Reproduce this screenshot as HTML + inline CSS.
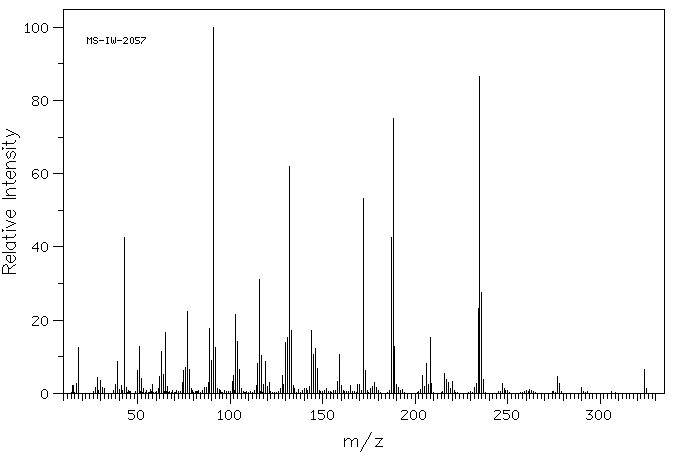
<!DOCTYPE html>
<html><head><meta charset="utf-8"><style>
html,body{margin:0;padding:0;background:#fff;}
body{width:676px;height:455px;overflow:hidden;position:relative;}
svg{position:absolute;left:0;top:0;}
</style></head><body>
<svg width="676" height="455" viewBox="0 0 676 455">
<rect x="0" y="0" width="676" height="455" fill="#fff"/>
<path shape-rendering="crispEdges" fill="#000" d="M6 192h1v1h-1zM6 259h1v1h-1zM10 259h1v1h-1zM15 259h1v1h-1zM12 132h2v1h-2zM7 171h4v1h-4zM13 171h1v1h-1zM2 273h14v1h-14zM344 443h1v1h-1zM351 443h1v1h-1zM357 443h1v1h-1zM365 443h1v1h-1zM378 443h1v1h-1zM2 252h14v1h-14zM2 198h14v1h-14zM6 168h10v1h-10zM14 133h2v1h-2zM368 437h1v1h-1zM6 129h2v1h-2zM9 262h4v1h-4zM7 156h1v1h-1zM10 156h1v1h-1zM14 156h1v1h-1zM8 130h2v1h-2zM344 438h1v1h-1zM347 438h3v1h-3zM354 438h3v1h-3zM368 438h1v1h-1zM375 438h8v1h-8zM6 245h1v1h-1zM15 245h1v1h-1zM6 175h1v1h-1zM10 175h1v1h-1zM15 175h1v1h-1zM6 242h10v1h-10zM2 269h1v1h-1zM8 269h1v1h-1zM2 230h2v1h-2zM6 230h10v1h-10zM6 195h10v1h-10zM6 172h1v1h-1zM10 172h1v1h-1zM14 172h1v1h-1zM11 222h3v1h-3zM344 446h1v1h-1zM351 446h1v1h-1zM357 446h1v1h-1zM363 446h1v1h-1zM375 446h8v1h-8zM9 188h7v1h-7zM6 164h1v1h-1zM3 266h1v1h-1zM7 266h1v1h-1zM12 266h1v1h-1zM6 173h1v1h-1zM10 173h1v1h-1zM15 173h1v1h-1zM6 182h1v1h-1zM14 182h1v1h-1zM2 143h12v1h-12zM6 191h1v1h-1zM6 258h1v1h-1zM10 258h1v1h-1zM15 258h1v1h-1zM2 148h2v1h-2zM6 148h10v1h-10zM9 161h7v1h-7zM2 237h12v1h-12zM344 442h1v1h-1zM351 442h1v1h-1zM357 442h1v1h-1zM365 442h1v1h-1zM379 442h1v1h-1zM7 255h4v1h-4zM13 255h1v1h-1zM6 141h1v1h-1zM15 141h1v1h-1zM344 441h1v1h-1zM351 441h1v1h-1zM357 441h1v1h-1zM366 441h1v1h-1zM379 441h1v1h-1zM2 183h12v1h-12zM6 235h1v1h-1zM15 235h1v1h-1zM6 244h1v1h-1zM15 244h1v1h-1zM6 174h1v1h-1zM10 174h1v1h-1zM15 174h1v1h-1zM2 268h1v1h-1zM8 268h3v1h-3zM6 145h1v1h-1zM7 247h1v1h-1zM14 247h1v1h-1zM9 178h4v1h-4zM6 154h1v1h-1zM10 154h1v1h-1zM15 154h1v1h-1zM6 256h1v1h-1zM10 256h1v1h-1zM14 256h1v1h-1zM344 445h1v1h-1zM351 445h1v1h-1zM357 445h1v1h-1zM363 445h1v1h-1zM376 445h1v1h-1zM6 163h1v1h-1zM3 265h2v1h-2zM7 265h1v1h-1zM13 265h2v1h-2zM6 181h1v1h-1zM15 181h1v1h-1zM6 257h1v1h-1zM10 257h1v1h-1zM15 257h1v1h-1zM2 147h1v1h-1zM344 439h1v1h-1zM346 439h1v1h-1zM350 439h1v1h-1zM353 439h1v1h-1zM357 439h1v1h-1zM367 439h1v1h-1zM381 439h1v1h-1zM344 440h2v1h-2zM351 440h2v1h-2zM357 440h1v1h-1zM366 440h1v1h-1zM380 440h1v1h-1zM7 260h1v1h-1zM10 260h1v1h-1zM14 260h1v1h-1zM15 234h1v1h-1zM9 249h4v1h-4zM2 272h1v1h-1zM8 272h1v1h-1zM6 144h1v1h-1zM6 153h1v1h-1zM10 153h1v1h-1zM15 153h1v1h-1zM344 444h1v1h-1zM351 444h1v1h-1zM357 444h1v1h-1zM364 444h1v1h-1zM377 444h1v1h-1zM2 231h1v1h-1zM14 223h2v1h-2zM2 267h1v1h-1zM8 267h1v1h-1zM11 267h1v1h-1zM7 193h1v1h-1zM8 167h1v1h-1zM6 220h2v1h-2zM8 194h1v1h-1zM11 134h3v1h-3zM16 134h2v1h-2zM8 221h3v1h-3zM6 236h1v1h-1zM14 236h1v1h-1zM7 162h2v1h-2zM7 215h1v1h-1zM10 215h1v1h-1zM14 215h1v1h-1zM7 189h2v1h-2zM6 246h1v1h-1zM15 246h1v1h-1zM8 151h1v1h-1zM12 151h2v1h-2zM8 216h1v1h-1zM10 216h1v1h-1zM13 216h1v1h-1zM5 264h2v1h-2zM15 264h1v1h-1zM10 225h2v1h-2zM8 135h3v1h-3zM18 135h1v1h-1zM7 210h4v1h-4zM13 210h1v1h-1zM6 214h1v1h-1zM10 214h1v1h-1zM15 214h1v1h-1zM6 211h1v1h-1zM10 211h1v1h-1zM14 211h1v1h-1zM6 155h1v1h-1zM10 155h1v1h-1zM15 155h1v1h-1zM6 227h2v1h-2zM7 176h1v1h-1zM10 176h1v1h-1zM14 176h1v1h-1zM371 432h1v1h-1zM2 229h1v1h-1zM7 152h1v1h-1zM11 152h1v1h-1zM14 152h1v1h-1zM6 213h1v1h-1zM10 213h1v1h-1zM15 213h1v1h-1zM8 248h1v1h-1zM13 248h1v1h-1zM6 190h1v1h-1zM7 157h1v1h-1zM9 157h1v1h-1zM14 157h1v1h-1zM12 224h2v1h-2zM15 140h1v1h-1zM6 136h2v1h-2zM19 136h1v1h-1zM19 137h1v1h-1zM6 185h1v1h-1zM6 212h1v1h-1zM10 212h1v1h-1zM15 212h1v1h-1zM7 243h1v1h-1zM14 243h1v1h-1zM8 226h2v1h-2zM8 177h1v1h-1zM10 177h1v1h-1zM13 177h1v1h-1zM370 434h1v1h-1zM362 448h1v1h-1zM6 184h1v1h-1zM9 217h4v1h-4zM6 142h1v1h-1zM14 142h1v1h-1zM2 271h1v1h-1zM8 271h1v1h-1zM10 131h2v1h-2zM8 261h1v1h-1zM10 261h1v1h-1zM13 261h1v1h-1zM370 433h1v1h-1zM362 447h1v1h-1zM6 165h1v1h-1zM2 149h1v1h-1zM369 436h1v1h-1zM2 270h1v1h-1zM8 270h1v1h-1zM361 450h1v1h-1zM369 435h1v1h-1zM8 158h1v1h-1zM13 158h1v1h-1zM361 449h1v1h-1zM6 239h1v1h-1zM15 180h1v1h-1zM6 238h1v1h-1zM7 166h1v1h-1zM360 451h1v1h-1zM63 9h602v1h-602zM63 9h1v385h-1zM664 9h1v385h-1zM63 393h602v1h-602zM53 27h10v1h-10zM53 100h10v1h-10zM53 173h10v1h-10zM53 246h10v1h-10zM53 320h10v1h-10zM53 393h10v1h-10zM58 63h5v1h-5zM58 137h5v1h-5zM58 210h5v1h-5zM58 283h5v1h-5zM58 356h5v1h-5zM63 394h1v7h-1zM67 394h1v5h-1zM71 394h1v5h-1zM74 394h1v5h-1zM78 394h1v5h-1zM82 394h1v7h-1zM85 394h1v5h-1zM89 394h1v5h-1zM93 394h1v5h-1zM97 394h1v5h-1zM100 394h1v7h-1zM104 394h1v5h-1zM108 394h1v5h-1zM111 394h1v5h-1zM115 394h1v5h-1zM119 394h1v7h-1zM122 394h1v5h-1zM126 394h1v5h-1zM130 394h1v5h-1zM134 394h1v5h-1zM137 394h1v10h-1zM141 394h1v5h-1zM145 394h1v5h-1zM148 394h1v5h-1zM152 394h1v5h-1zM156 394h1v7h-1zM159 394h1v5h-1zM163 394h1v5h-1zM167 394h1v5h-1zM171 394h1v5h-1zM174 394h1v7h-1zM178 394h1v5h-1zM182 394h1v5h-1zM185 394h1v5h-1zM189 394h1v5h-1zM193 394h1v7h-1zM196 394h1v5h-1zM200 394h1v5h-1zM204 394h1v5h-1zM208 394h1v5h-1zM211 394h1v7h-1zM215 394h1v5h-1zM219 394h1v5h-1zM222 394h1v5h-1zM226 394h1v5h-1zM230 394h1v10h-1zM233 394h1v5h-1zM237 394h1v5h-1zM241 394h1v5h-1zM245 394h1v5h-1zM248 394h1v7h-1zM252 394h1v5h-1zM256 394h1v5h-1zM259 394h1v5h-1zM263 394h1v5h-1zM267 394h1v7h-1zM270 394h1v5h-1zM274 394h1v5h-1zM278 394h1v5h-1zM282 394h1v5h-1zM285 394h1v7h-1zM289 394h1v5h-1zM293 394h1v5h-1zM296 394h1v5h-1zM300 394h1v5h-1zM304 394h1v7h-1zM307 394h1v5h-1zM311 394h1v5h-1zM315 394h1v5h-1zM319 394h1v5h-1zM322 394h1v10h-1zM326 394h1v5h-1zM330 394h1v5h-1zM333 394h1v5h-1zM337 394h1v5h-1zM341 394h1v7h-1zM344 394h1v5h-1zM348 394h1v5h-1zM352 394h1v5h-1zM356 394h1v5h-1zM359 394h1v7h-1zM363 394h1v5h-1zM367 394h1v5h-1zM370 394h1v5h-1zM374 394h1v5h-1zM378 394h1v7h-1zM381 394h1v5h-1zM385 394h1v5h-1zM389 394h1v5h-1zM393 394h1v5h-1zM396 394h1v7h-1zM400 394h1v5h-1zM404 394h1v5h-1zM407 394h1v5h-1zM411 394h1v5h-1zM415 394h1v10h-1zM418 394h1v5h-1zM422 394h1v5h-1zM426 394h1v5h-1zM430 394h1v5h-1zM433 394h1v7h-1zM437 394h1v5h-1zM441 394h1v5h-1zM444 394h1v5h-1zM448 394h1v5h-1zM452 394h1v7h-1zM455 394h1v5h-1zM459 394h1v5h-1zM463 394h1v5h-1zM467 394h1v5h-1zM470 394h1v7h-1zM474 394h1v5h-1zM478 394h1v5h-1zM481 394h1v5h-1zM485 394h1v5h-1zM489 394h1v7h-1zM492 394h1v5h-1zM496 394h1v5h-1zM500 394h1v5h-1zM504 394h1v5h-1zM507 394h1v10h-1zM511 394h1v5h-1zM515 394h1v5h-1zM518 394h1v5h-1zM522 394h1v5h-1zM526 394h1v7h-1zM529 394h1v5h-1zM533 394h1v5h-1zM537 394h1v5h-1zM541 394h1v5h-1zM544 394h1v7h-1zM548 394h1v5h-1zM552 394h1v5h-1zM555 394h1v5h-1zM559 394h1v5h-1zM563 394h1v7h-1zM566 394h1v5h-1zM570 394h1v5h-1zM574 394h1v5h-1zM578 394h1v5h-1zM581 394h1v7h-1zM585 394h1v5h-1zM589 394h1v5h-1zM592 394h1v5h-1zM596 394h1v5h-1zM600 394h1v10h-1zM603 394h1v5h-1zM607 394h1v5h-1zM611 394h1v5h-1zM615 394h1v5h-1zM618 394h1v7h-1zM622 394h1v5h-1zM626 394h1v5h-1zM629 394h1v5h-1zM633 394h1v5h-1zM637 394h1v7h-1zM640 394h1v5h-1zM644 394h1v5h-1zM648 394h1v5h-1zM652 394h1v5h-1zM655 394h1v7h-1zM71 392h1v1h-1zM72 385h1v8h-1zM73 385h1v8h-1zM74 392h1v1h-1zM76 383h1v10h-1zM78 347h1v46h-1zM93 391h1v2h-1zM95 387h1v6h-1zM97 377h1v16h-1zM98 390h1v3h-1zM100 380h1v13h-1zM102 387h1v6h-1zM104 388h1v5h-1zM113 390h1v3h-1zM115 384h1v9h-1zM117 361h1v32h-1zM119 389h1v4h-1zM121 385h1v8h-1zM122 390h1v3h-1zM124 237h1v156h-1zM126 387h1v6h-1zM127 392h1v1h-1zM128 390h1v3h-1zM129 391h1v2h-1zM130 391h1v2h-1zM135 391h1v2h-1zM137 370h1v23h-1zM139 346h1v47h-1zM140 391h1v2h-1zM141 378h1v15h-1zM142 392h1v1h-1zM143 388h1v5h-1zM145 392h1v1h-1zM146 390h1v3h-1zM148 392h1v1h-1zM149 392h1v1h-1zM150 389h1v4h-1zM151 391h1v2h-1zM152 384h1v9h-1zM153 392h1v1h-1zM155 392h1v1h-1zM156 391h1v2h-1zM158 388h1v5h-1zM159 376h1v17h-1zM161 351h1v42h-1zM163 374h1v19h-1zM164 391h1v2h-1zM165 332h1v61h-1zM166 391h1v2h-1zM167 386h1v7h-1zM168 392h1v1h-1zM169 391h1v2h-1zM171 392h1v1h-1zM172 390h1v3h-1zM174 392h1v1h-1zM175 392h1v1h-1zM176 390h1v3h-1zM178 391h1v2h-1zM180 391h1v2h-1zM182 382h1v11h-1zM183 370h1v23h-1zM185 367h1v26h-1zM187 311h1v82h-1zM189 369h1v24h-1zM191 388h1v5h-1zM192 390h1v3h-1zM193 392h1v1h-1zM195 391h1v2h-1zM196 391h1v2h-1zM197 391h1v2h-1zM198 390h1v3h-1zM200 392h1v1h-1zM202 390h1v3h-1zM204 387h1v6h-1zM206 387h1v6h-1zM208 382h1v11h-1zM209 328h1v65h-1zM211 360h1v33h-1zM213 27h1v366h-1zM215 347h1v46h-1zM217 388h1v5h-1zM219 389h1v4h-1zM220 390h1v3h-1zM221 392h1v1h-1zM222 392h1v1h-1zM224 390h1v3h-1zM226 391h1v2h-1zM228 391h1v2h-1zM230 391h1v2h-1zM232 381h1v12h-1zM233 375h1v18h-1zM234 390h1v3h-1zM235 314h1v79h-1zM237 341h1v52h-1zM239 369h1v24h-1zM241 388h1v5h-1zM243 391h1v2h-1zM244 392h1v1h-1zM245 392h1v1h-1zM246 391h1v2h-1zM248 392h1v1h-1zM250 391h1v2h-1zM252 392h1v1h-1zM254 390h1v3h-1zM256 385h1v8h-1zM257 363h1v30h-1zM259 279h1v114h-1zM260 391h1v2h-1zM261 355h1v38h-1zM262 392h1v1h-1zM263 384h1v9h-1zM265 361h1v32h-1zM267 386h1v7h-1zM269 382h1v11h-1zM270 391h1v2h-1zM272 392h1v1h-1zM274 392h1v1h-1zM276 392h1v1h-1zM278 391h1v2h-1zM280 388h1v5h-1zM282 375h1v18h-1zM283 384h1v9h-1zM285 342h1v51h-1zM287 337h1v56h-1zM289 166h1v227h-1zM291 330h1v63h-1zM293 385h1v8h-1zM294 388h1v5h-1zM296 392h1v1h-1zM298 389h1v4h-1zM300 392h1v1h-1zM302 390h1v3h-1zM304 388h1v5h-1zM306 388h1v5h-1zM307 390h1v3h-1zM309 386h1v7h-1zM311 330h1v63h-1zM313 354h1v39h-1zM315 348h1v45h-1zM317 368h1v25h-1zM319 390h1v3h-1zM320 391h1v2h-1zM322 391h1v2h-1zM324 390h1v3h-1zM326 388h1v5h-1zM328 391h1v2h-1zM330 391h1v2h-1zM331 392h1v1h-1zM333 390h1v3h-1zM335 390h1v3h-1zM337 381h1v12h-1zM339 354h1v39h-1zM341 385h1v8h-1zM343 390h1v3h-1zM344 391h1v2h-1zM346 391h1v2h-1zM348 391h1v2h-1zM350 385h1v8h-1zM352 391h1v2h-1zM354 391h1v2h-1zM356 392h1v1h-1zM357 384h1v9h-1zM359 384h1v9h-1zM361 390h1v3h-1zM363 198h1v195h-1zM365 370h1v23h-1zM367 390h1v3h-1zM368 392h1v1h-1zM370 388h1v5h-1zM372 386h1v7h-1zM374 382h1v11h-1zM376 387h1v6h-1zM378 390h1v3h-1zM380 392h1v1h-1zM387 392h1v1h-1zM389 390h1v3h-1zM391 237h1v156h-1zM393 118h1v275h-1zM394 346h1v47h-1zM396 384h1v9h-1zM398 387h1v6h-1zM400 390h1v3h-1zM402 389h1v4h-1zM404 392h1v1h-1zM417 392h1v1h-1zM418 391h1v2h-1zM420 389h1v4h-1zM422 375h1v18h-1zM424 386h1v7h-1zM426 363h1v30h-1zM428 384h1v9h-1zM430 337h1v56h-1zM431 383h1v10h-1zM433 392h1v1h-1zM441 392h1v1h-1zM442 391h1v2h-1zM444 373h1v20h-1zM446 379h1v14h-1zM448 382h1v11h-1zM450 388h1v5h-1zM452 381h1v12h-1zM454 390h1v3h-1zM455 392h1v1h-1zM457 392h1v1h-1zM468 392h1v1h-1zM470 391h1v2h-1zM472 392h1v1h-1zM474 387h1v6h-1zM476 383h1v10h-1zM478 308h1v85h-1zM479 76h1v317h-1zM481 292h1v101h-1zM483 379h1v14h-1zM485 392h1v1h-1zM498 391h1v2h-1zM500 391h1v2h-1zM502 383h1v10h-1zM504 388h1v5h-1zM505 390h1v3h-1zM507 390h1v3h-1zM509 392h1v1h-1zM520 392h1v1h-1zM522 392h1v1h-1zM524 391h1v2h-1zM526 390h1v3h-1zM528 391h1v2h-1zM529 389h1v4h-1zM531 390h1v3h-1zM533 391h1v2h-1zM535 392h1v1h-1zM552 391h1v2h-1zM553 391h1v2h-1zM555 392h1v1h-1zM557 376h1v17h-1zM559 383h1v10h-1zM561 391h1v2h-1zM581 387h1v6h-1zM583 391h1v2h-1zM585 392h1v1h-1zM587 391h1v2h-1zM611 391h1v2h-1zM615 392h1v1h-1zM644 369h1v24h-1zM646 388h1v5h-1zM27 23h1v1h-1zM26 24h2v1h-2zM25 25h1v1h-1zM27 25h1v1h-1zM27 26h1v1h-1zM27 27h1v1h-1zM27 28h1v1h-1zM27 29h1v1h-1zM27 30h1v1h-1zM27 31h1v1h-1zM25 32h5v1h-5zM34 23h3v1h-3zM33 24h1v1h-1zM37 24h1v1h-1zM32 25h1v1h-1zM38 25h1v1h-1zM32 26h1v1h-1zM38 26h1v1h-1zM32 27h1v1h-1zM38 27h1v1h-1zM32 28h1v1h-1zM38 28h1v1h-1zM32 29h1v1h-1zM38 29h1v1h-1zM32 30h1v1h-1zM38 30h1v1h-1zM33 31h1v1h-1zM37 31h1v1h-1zM34 32h3v1h-3zM43 23h3v1h-3zM42 24h1v1h-1zM46 24h1v1h-1zM41 25h1v1h-1zM47 25h1v1h-1zM41 26h1v1h-1zM47 26h1v1h-1zM41 27h1v1h-1zM47 27h1v1h-1zM41 28h1v1h-1zM47 28h1v1h-1zM41 29h1v1h-1zM47 29h1v1h-1zM41 30h1v1h-1zM47 30h1v1h-1zM42 31h1v1h-1zM46 31h1v1h-1zM43 32h3v1h-3zM33 96h5v1h-5zM32 97h1v1h-1zM38 97h1v1h-1zM32 98h1v1h-1zM38 98h1v1h-1zM33 99h1v1h-1zM37 99h1v1h-1zM34 100h3v1h-3zM33 101h1v1h-1zM37 101h1v1h-1zM32 102h1v1h-1zM38 102h1v1h-1zM32 103h1v1h-1zM38 103h1v1h-1zM32 104h1v1h-1zM38 104h1v1h-1zM33 105h5v1h-5zM43 96h3v1h-3zM42 97h1v1h-1zM46 97h1v1h-1zM41 98h1v1h-1zM47 98h1v1h-1zM41 99h1v1h-1zM47 99h1v1h-1zM41 100h1v1h-1zM47 100h1v1h-1zM41 101h1v1h-1zM47 101h1v1h-1zM41 102h1v1h-1zM47 102h1v1h-1zM41 103h1v1h-1zM47 103h1v1h-1zM42 104h1v1h-1zM46 104h1v1h-1zM43 105h3v1h-3zM34 169h4v1h-4zM33 170h1v1h-1zM38 170h1v1h-1zM32 171h1v1h-1zM32 172h1v1h-1zM32 173h1v1h-1zM34 173h3v1h-3zM32 174h2v1h-2zM37 174h1v1h-1zM32 175h1v1h-1zM38 175h1v1h-1zM32 176h1v1h-1zM38 176h1v1h-1zM33 177h1v1h-1zM37 177h1v1h-1zM34 178h3v1h-3zM43 169h3v1h-3zM42 170h1v1h-1zM46 170h1v1h-1zM41 171h1v1h-1zM47 171h1v1h-1zM41 172h1v1h-1zM47 172h1v1h-1zM41 173h1v1h-1zM47 173h1v1h-1zM41 174h1v1h-1zM47 174h1v1h-1zM41 175h1v1h-1zM47 175h1v1h-1zM41 176h1v1h-1zM47 176h1v1h-1zM42 177h1v1h-1zM46 177h1v1h-1zM43 178h3v1h-3zM37 242h1v1h-1zM36 243h2v1h-2zM35 244h1v1h-1zM37 244h1v1h-1zM34 245h1v1h-1zM37 245h1v1h-1zM33 246h1v1h-1zM37 246h1v1h-1zM32 247h1v1h-1zM37 247h1v1h-1zM32 248h7v1h-7zM37 249h1v1h-1zM37 250h1v1h-1zM37 251h1v1h-1zM43 242h3v1h-3zM42 243h1v1h-1zM46 243h1v1h-1zM41 244h1v1h-1zM47 244h1v1h-1zM41 245h1v1h-1zM47 245h1v1h-1zM41 246h1v1h-1zM47 246h1v1h-1zM41 247h1v1h-1zM47 247h1v1h-1zM41 248h1v1h-1zM47 248h1v1h-1zM41 249h1v1h-1zM47 249h1v1h-1zM42 250h1v1h-1zM46 250h1v1h-1zM43 251h3v1h-3zM33 316h5v1h-5zM32 317h1v1h-1zM38 317h1v1h-1zM38 318h1v1h-1zM37 319h1v1h-1zM36 320h1v1h-1zM35 321h1v1h-1zM34 322h1v1h-1zM33 323h1v1h-1zM32 324h1v1h-1zM32 325h7v1h-7zM43 316h3v1h-3zM42 317h1v1h-1zM46 317h1v1h-1zM41 318h1v1h-1zM47 318h1v1h-1zM41 319h1v1h-1zM47 319h1v1h-1zM41 320h1v1h-1zM47 320h1v1h-1zM41 321h1v1h-1zM47 321h1v1h-1zM41 322h1v1h-1zM47 322h1v1h-1zM41 323h1v1h-1zM47 323h1v1h-1zM42 324h1v1h-1zM46 324h1v1h-1zM43 325h3v1h-3zM43 389h3v1h-3zM42 390h1v1h-1zM46 390h1v1h-1zM41 391h1v1h-1zM47 391h1v1h-1zM41 392h1v1h-1zM47 392h1v1h-1zM41 393h1v1h-1zM47 393h1v1h-1zM41 394h1v1h-1zM47 394h1v1h-1zM41 395h1v1h-1zM47 395h1v1h-1zM41 396h1v1h-1zM47 396h1v1h-1zM42 397h1v1h-1zM46 397h1v1h-1zM43 398h3v1h-3zM128 410h7v1h-7zM128 411h1v1h-1zM128 412h1v1h-1zM128 413h5v1h-5zM133 414h1v1h-1zM134 415h1v1h-1zM134 416h1v1h-1zM134 417h1v1h-1zM128 418h1v1h-1zM133 418h1v1h-1zM129 419h4v1h-4zM139 410h3v1h-3zM138 411h1v1h-1zM142 411h1v1h-1zM137 412h1v1h-1zM143 412h1v1h-1zM137 413h1v1h-1zM143 413h1v1h-1zM137 414h1v1h-1zM143 414h1v1h-1zM137 415h1v1h-1zM143 415h1v1h-1zM137 416h1v1h-1zM143 416h1v1h-1zM137 417h1v1h-1zM143 417h1v1h-1zM138 418h1v1h-1zM142 418h1v1h-1zM139 419h3v1h-3zM220 410h1v1h-1zM219 411h2v1h-2zM218 412h1v1h-1zM220 412h1v1h-1zM220 413h1v1h-1zM220 414h1v1h-1zM220 415h1v1h-1zM220 416h1v1h-1zM220 417h1v1h-1zM220 418h1v1h-1zM218 419h5v1h-5zM227 410h3v1h-3zM226 411h1v1h-1zM230 411h1v1h-1zM225 412h1v1h-1zM231 412h1v1h-1zM225 413h1v1h-1zM231 413h1v1h-1zM225 414h1v1h-1zM231 414h1v1h-1zM225 415h1v1h-1zM231 415h1v1h-1zM225 416h1v1h-1zM231 416h1v1h-1zM225 417h1v1h-1zM231 417h1v1h-1zM226 418h1v1h-1zM230 418h1v1h-1zM227 419h3v1h-3zM236 410h3v1h-3zM235 411h1v1h-1zM239 411h1v1h-1zM234 412h1v1h-1zM240 412h1v1h-1zM234 413h1v1h-1zM240 413h1v1h-1zM234 414h1v1h-1zM240 414h1v1h-1zM234 415h1v1h-1zM240 415h1v1h-1zM234 416h1v1h-1zM240 416h1v1h-1zM234 417h1v1h-1zM240 417h1v1h-1zM235 418h1v1h-1zM239 418h1v1h-1zM236 419h3v1h-3zM313 410h1v1h-1zM312 411h2v1h-2zM311 412h1v1h-1zM313 412h1v1h-1zM313 413h1v1h-1zM313 414h1v1h-1zM313 415h1v1h-1zM313 416h1v1h-1zM313 417h1v1h-1zM313 418h1v1h-1zM311 419h5v1h-5zM318 410h7v1h-7zM318 411h1v1h-1zM318 412h1v1h-1zM318 413h5v1h-5zM323 414h1v1h-1zM324 415h1v1h-1zM324 416h1v1h-1zM324 417h1v1h-1zM318 418h1v1h-1zM323 418h1v1h-1zM319 419h4v1h-4zM329 410h3v1h-3zM328 411h1v1h-1zM332 411h1v1h-1zM327 412h1v1h-1zM333 412h1v1h-1zM327 413h1v1h-1zM333 413h1v1h-1zM327 414h1v1h-1zM333 414h1v1h-1zM327 415h1v1h-1zM333 415h1v1h-1zM327 416h1v1h-1zM333 416h1v1h-1zM327 417h1v1h-1zM333 417h1v1h-1zM328 418h1v1h-1zM332 418h1v1h-1zM329 419h3v1h-3zM402 410h5v1h-5zM401 411h1v1h-1zM407 411h1v1h-1zM407 412h1v1h-1zM406 413h1v1h-1zM405 414h1v1h-1zM404 415h1v1h-1zM403 416h1v1h-1zM402 417h1v1h-1zM401 418h1v1h-1zM401 419h7v1h-7zM412 410h3v1h-3zM411 411h1v1h-1zM415 411h1v1h-1zM410 412h1v1h-1zM416 412h1v1h-1zM410 413h1v1h-1zM416 413h1v1h-1zM410 414h1v1h-1zM416 414h1v1h-1zM410 415h1v1h-1zM416 415h1v1h-1zM410 416h1v1h-1zM416 416h1v1h-1zM410 417h1v1h-1zM416 417h1v1h-1zM411 418h1v1h-1zM415 418h1v1h-1zM412 419h3v1h-3zM421 410h3v1h-3zM420 411h1v1h-1zM424 411h1v1h-1zM419 412h1v1h-1zM425 412h1v1h-1zM419 413h1v1h-1zM425 413h1v1h-1zM419 414h1v1h-1zM425 414h1v1h-1zM419 415h1v1h-1zM425 415h1v1h-1zM419 416h1v1h-1zM425 416h1v1h-1zM419 417h1v1h-1zM425 417h1v1h-1zM420 418h1v1h-1zM424 418h1v1h-1zM421 419h3v1h-3zM495 410h5v1h-5zM494 411h1v1h-1zM500 411h1v1h-1zM500 412h1v1h-1zM499 413h1v1h-1zM498 414h1v1h-1zM497 415h1v1h-1zM496 416h1v1h-1zM495 417h1v1h-1zM494 418h1v1h-1zM494 419h7v1h-7zM503 410h7v1h-7zM503 411h1v1h-1zM503 412h1v1h-1zM503 413h5v1h-5zM508 414h1v1h-1zM509 415h1v1h-1zM509 416h1v1h-1zM509 417h1v1h-1zM503 418h1v1h-1zM508 418h1v1h-1zM504 419h4v1h-4zM514 410h3v1h-3zM513 411h1v1h-1zM517 411h1v1h-1zM512 412h1v1h-1zM518 412h1v1h-1zM512 413h1v1h-1zM518 413h1v1h-1zM512 414h1v1h-1zM518 414h1v1h-1zM512 415h1v1h-1zM518 415h1v1h-1zM512 416h1v1h-1zM518 416h1v1h-1zM512 417h1v1h-1zM518 417h1v1h-1zM513 418h1v1h-1zM517 418h1v1h-1zM514 419h3v1h-3zM586 410h7v1h-7zM591 411h1v1h-1zM590 412h1v1h-1zM589 413h1v1h-1zM588 414h3v1h-3zM591 415h1v1h-1zM592 416h1v1h-1zM592 417h1v1h-1zM586 418h1v1h-1zM591 418h1v1h-1zM587 419h4v1h-4zM597 410h3v1h-3zM596 411h1v1h-1zM600 411h1v1h-1zM595 412h1v1h-1zM601 412h1v1h-1zM595 413h1v1h-1zM601 413h1v1h-1zM595 414h1v1h-1zM601 414h1v1h-1zM595 415h1v1h-1zM601 415h1v1h-1zM595 416h1v1h-1zM601 416h1v1h-1zM595 417h1v1h-1zM601 417h1v1h-1zM596 418h1v1h-1zM600 418h1v1h-1zM597 419h3v1h-3zM606 410h3v1h-3zM605 411h1v1h-1zM609 411h1v1h-1zM604 412h1v1h-1zM610 412h1v1h-1zM604 413h1v1h-1zM610 413h1v1h-1zM604 414h1v1h-1zM610 414h1v1h-1zM604 415h1v1h-1zM610 415h1v1h-1zM604 416h1v1h-1zM610 416h1v1h-1zM604 417h1v1h-1zM610 417h1v1h-1zM605 418h1v1h-1zM609 418h1v1h-1zM606 419h3v1h-3zM87 37h1v1h-1zM91 37h1v1h-1zM87 38h2v1h-2zM90 38h2v1h-2zM87 39h1v1h-1zM89 39h1v1h-1zM91 39h1v1h-1zM87 40h1v1h-1zM91 40h1v1h-1zM87 41h1v1h-1zM91 41h1v1h-1zM87 42h1v1h-1zM91 42h1v1h-1zM87 43h1v1h-1zM91 43h1v1h-1zM94 37h3v1h-3zM93 38h1v1h-1zM97 38h1v1h-1zM93 39h1v1h-1zM94 40h3v1h-3zM97 41h1v1h-1zM93 42h1v1h-1zM97 42h1v1h-1zM94 43h3v1h-3zM99 40h5v1h-5zM106 37h3v1h-3zM107 38h1v1h-1zM107 39h1v1h-1zM107 40h1v1h-1zM107 41h1v1h-1zM107 42h1v1h-1zM106 43h3v1h-3zM111 37h1v1h-1zM115 37h1v1h-1zM111 38h1v1h-1zM115 38h1v1h-1zM111 39h1v1h-1zM115 39h1v1h-1zM111 40h1v1h-1zM113 40h1v1h-1zM115 40h1v1h-1zM111 41h1v1h-1zM113 41h1v1h-1zM115 41h1v1h-1zM111 42h1v1h-1zM113 42h1v1h-1zM115 42h1v1h-1zM112 43h1v1h-1zM114 43h1v1h-1zM117 40h5v1h-5zM124 37h3v1h-3zM123 38h1v1h-1zM127 38h1v1h-1zM127 39h1v1h-1zM126 40h1v1h-1zM125 41h1v1h-1zM124 42h1v1h-1zM123 43h5v1h-5zM131 37h2v1h-2zM130 38h1v1h-1zM133 38h1v1h-1zM130 39h1v1h-1zM133 39h1v1h-1zM130 40h1v1h-1zM133 40h1v1h-1zM130 41h1v1h-1zM133 41h1v1h-1zM130 42h1v1h-1zM133 42h1v1h-1zM131 43h2v1h-2zM135 37h5v1h-5zM135 38h1v1h-1zM135 39h1v1h-1zM136 40h3v1h-3zM139 41h1v1h-1zM139 42h1v1h-1zM135 43h4v1h-4zM141 37h5v1h-5zM145 38h1v1h-1zM144 39h1v1h-1zM143 40h1v1h-1zM142 41h1v1h-1zM141 42h1v1h-1zM141 43h1v1h-1z"/>
</svg>
</body></html>
